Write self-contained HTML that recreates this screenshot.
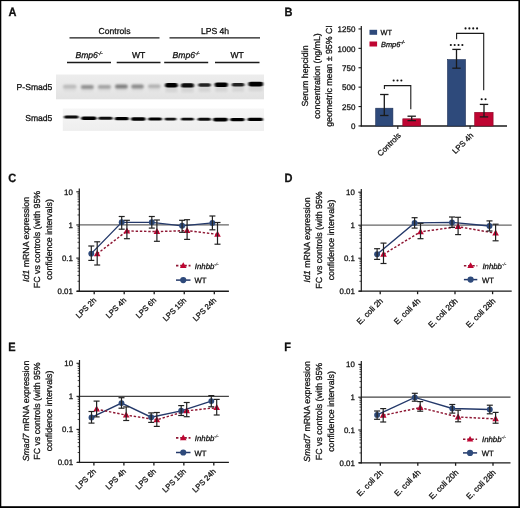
<!DOCTYPE html>
<html><head><meta charset="utf-8"><style>
html,body{margin:0;padding:0;background:#fff;}
svg{display:block;font-family:"Liberation Sans", sans-serif;will-change:transform;text-rendering:geometricPrecision;}
text{stroke:#111;stroke-width:0.28px;}
</style></head><body>
<svg width="520" height="508" viewBox="0 0 520 508">
<defs>
<filter id="blur" x="-20%" y="-100%" width="140%" height="300%"><feGaussianBlur stdDeviation="0.9 0.75"/></filter>
<filter id="blur2" x="-20%" y="-100%" width="140%" height="300%"><feGaussianBlur stdDeviation="1.1 0.9"/></filter>
<linearGradient id="g1" x1="0" y1="0" x2="0" y2="1"><stop offset="0" stop-color="#ededed"/><stop offset="0.5" stop-color="#e8e8e8"/><stop offset="1" stop-color="#e2e2e2"/></linearGradient>
<linearGradient id="g2" x1="0" y1="0" x2="0" y2="1"><stop offset="0" stop-color="#f6f6f6"/><stop offset="1" stop-color="#eeeeee"/></linearGradient>
<filter id="soft" x="-5%" y="-10%" width="110%" height="120%"><feGaussianBlur stdDeviation="0.5"/></filter>
</defs>
<rect x="0" y="0" width="520" height="508" fill="#fff"/>
<text transform="translate(8.4 16.4) scale(0.92 1)" x="0" y="0" font-size="12" font-weight="bold" fill="#111">A</text>
<text x="114.5" y="33.8" font-size="8.6" text-anchor="middle" fill="#111">Controls</text>
<text x="215" y="33.8" font-size="8.6" text-anchor="middle" fill="#111">LPS 4h</text>
<line x1="69.5" y1="37.85" x2="159.5" y2="37.85" stroke="#1a1a1a" stroke-width="1.4"/>
<line x1="169.5" y1="37.85" x2="260" y2="37.85" stroke="#1a1a1a" stroke-width="1.4"/>
<text x="89" y="58.2" font-size="8.6" text-anchor="middle" font-style="italic" fill="#111">Bmp6<tspan font-size="5" dy="-3.2">-/-</tspan></text>
<text x="138.6" y="58.2" font-size="8.6" text-anchor="middle" fill="#111">WT</text>
<text x="186.2" y="58.2" font-size="8.6" text-anchor="middle" font-style="italic" fill="#111">Bmp6<tspan font-size="5" dy="-3.2">-/-</tspan></text>
<text x="237.2" y="58.2" font-size="8.6" text-anchor="middle" fill="#111">WT</text>
<line x1="67" y1="62.55" x2="111" y2="62.55" stroke="#1a1a1a" stroke-width="1.4"/>
<line x1="116.7" y1="62.55" x2="160.5" y2="62.55" stroke="#1a1a1a" stroke-width="1.4"/>
<line x1="164.2" y1="62.55" x2="208.2" y2="62.55" stroke="#1a1a1a" stroke-width="1.4"/>
<line x1="215" y1="62.55" x2="259.5" y2="62.55" stroke="#1a1a1a" stroke-width="1.4"/>
<rect x="56" y="74.5" width="208" height="24.8" fill="url(#g1)" filter="url(#soft)"/>
<rect x="62.8" y="108.5" width="201.2" height="22.4" fill="url(#g2)" filter="url(#soft)"/>
<text x="52.4" y="90.2" font-size="8.6" text-anchor="end" fill="#111">P-Smad5</text>
<text x="52.4" y="121.4" font-size="8.6" text-anchor="end" fill="#111">Smad5</text>
<rect x="63.5" y="86.7" width="12.5" height="5" fill="#000" opacity="0.03" filter="url(#blur2)"/>
<rect x="81.3" y="87.0" width="12.0" height="5" fill="#000" opacity="0.03" filter="url(#blur2)"/>
<rect x="98.3" y="86.8" width="12.200000000000003" height="5" fill="#000" opacity="0.03" filter="url(#blur2)"/>
<rect x="115.5" y="86.6" width="11.799999999999997" height="5" fill="#000" opacity="0.03" filter="url(#blur2)"/>
<rect x="131.7" y="86.6" width="11.600000000000023" height="5" fill="#000" opacity="0.03" filter="url(#blur2)"/>
<rect x="148.5" y="86.3" width="11.5" height="5" fill="#000" opacity="0.03" filter="url(#blur2)"/>
<rect x="165.5" y="85.3" width="11.800000000000011" height="7" fill="#000" opacity="0.07" filter="url(#blur2)"/>
<rect x="181.5" y="85.4" width="12" height="7" fill="#000" opacity="0.07" filter="url(#blur2)"/>
<rect x="198.7" y="85.0" width="11.600000000000023" height="7" fill="#000" opacity="0.07" filter="url(#blur2)"/>
<rect x="215.1" y="84.8" width="12.300000000000011" height="7" fill="#000" opacity="0.07" filter="url(#blur2)"/>
<rect x="232.2" y="84.7" width="11.700000000000017" height="7" fill="#000" opacity="0.07" filter="url(#blur2)"/>
<rect x="248.7" y="84.1" width="14.0" height="7" fill="#000" opacity="0.07" filter="url(#blur2)"/>
<rect x="63" y="84.8" width="13.5" height="3.8" rx="1.9" fill="#bababa" filter="url(#blur2)"/>
<rect x="80.8" y="85.0" width="13.0" height="4.0" rx="2.0" fill="#929292" filter="url(#blur2)"/>
<rect x="97.8" y="84.89999999999999" width="13.200000000000003" height="3.8" rx="1.9" fill="#a2a2a2" filter="url(#blur2)"/>
<rect x="115" y="84.6" width="12.799999999999997" height="4.0" rx="2.0" fill="#7e7e7e" filter="url(#blur2)"/>
<rect x="131.2" y="84.6" width="12.600000000000023" height="4.0" rx="2.0" fill="#8a8a8a" filter="url(#blur2)"/>
<rect x="148" y="84.6" width="12.5" height="3.4" rx="1.7" fill="#b0b0b0" filter="url(#blur2)"/>
<rect x="165" y="83.1" width="12.800000000000011" height="4.4" rx="2.2" fill="#050505" filter="url(#blur)"/>
<rect x="181" y="83.2" width="13" height="4.4" rx="2.2" fill="#080808" filter="url(#blur)"/>
<rect x="198.2" y="83.2" width="12.600000000000023" height="3.6" rx="1.8" fill="#222222" filter="url(#blur)"/>
<rect x="214.6" y="82.6" width="13.300000000000011" height="4.4" rx="2.2" fill="#060606" filter="url(#blur)"/>
<rect x="231.7" y="82.9" width="12.700000000000017" height="3.6" rx="1.8" fill="#202020" filter="url(#blur)"/>
<rect x="248.2" y="81.69999999999999" width="15.0" height="4.8" rx="2.4" fill="#000000" filter="url(#blur)"/>
<rect x="64" y="115.4" width="14.599999999999994" height="3.2" rx="1.6" fill="#0a0a0a" filter="url(#blur)"/>
<rect x="81.2" y="116.4" width="15.299999999999997" height="3.6" rx="1.8" fill="#000000" filter="url(#blur)"/>
<rect x="98.4" y="116.8" width="14.199999999999989" height="3.0" rx="1.5" fill="#0e0e0e" filter="url(#blur)"/>
<rect x="114.8" y="117.10000000000001" width="14.000000000000014" height="3.2" rx="1.6" fill="#050505" filter="url(#blur)"/>
<rect x="131" y="117.2" width="14.599999999999994" height="3.6" rx="1.8" fill="#000000" filter="url(#blur)"/>
<rect x="148.2" y="117.4" width="13.800000000000011" height="3.2" rx="1.6" fill="#060606" filter="url(#blur)"/>
<rect x="164.6" y="117.8" width="11.800000000000011" height="2.6" rx="1.3" fill="#161616" filter="url(#blur)"/>
<rect x="181" y="117.8" width="12.800000000000011" height="2.8" rx="1.4" fill="#101010" filter="url(#blur)"/>
<rect x="197.6" y="117.8" width="13.200000000000017" height="3.0" rx="1.5" fill="#0c0c0c" filter="url(#blur)"/>
<rect x="213" y="117.8" width="14.900000000000006" height="3.6" rx="1.8" fill="#000000" filter="url(#blur)"/>
<rect x="230.2" y="118.0" width="14.400000000000006" height="3.2" rx="1.6" fill="#040404" filter="url(#blur)"/>
<rect x="247.5" y="117.7" width="15.5" height="3.4" rx="1.7" fill="#020202" filter="url(#blur)"/>
<text transform="translate(284.5 16.4) scale(0.92 1)" x="0" y="0" font-size="12" font-weight="bold" fill="#111">B</text>
<text x="308.2" y="76" font-size="8.8" text-anchor="middle" transform="rotate(-90 308.2 76)" fill="#111">Serum hepcidin</text>
<text x="320.0" y="76" font-size="8.8" text-anchor="middle" transform="rotate(-90 320.0 76)" fill="#111">concentration (ng/mL)</text>
<text x="331.8" y="76" font-size="8.8" text-anchor="middle" transform="rotate(-90 331.8 76)" fill="#111">geometric mean &#177; 95% CI</text>
<line x1="361.3" y1="25.9" x2="361.3" y2="126.45" stroke="#1a1a1a" stroke-width="1.2"/>
<line x1="358.5" y1="125.95" x2="361.3" y2="125.95" stroke="#1a1a1a" stroke-width="1.1"/>
<text x="355.4" y="129.25" font-size="8.0" text-anchor="end" fill="#111">0</text>
<line x1="358.5" y1="106.55000000000001" x2="361.3" y2="106.55000000000001" stroke="#1a1a1a" stroke-width="1.1"/>
<text x="355.4" y="109.85000000000001" font-size="8.0" text-anchor="end" fill="#111">250</text>
<line x1="358.5" y1="87.15" x2="361.3" y2="87.15" stroke="#1a1a1a" stroke-width="1.1"/>
<text x="355.4" y="90.45" font-size="8.0" text-anchor="end" fill="#111">500</text>
<line x1="358.5" y1="67.75" x2="361.3" y2="67.75" stroke="#1a1a1a" stroke-width="1.1"/>
<text x="355.4" y="71.05" font-size="8.0" text-anchor="end" fill="#111">750</text>
<line x1="358.5" y1="48.35000000000001" x2="361.3" y2="48.35000000000001" stroke="#1a1a1a" stroke-width="1.1"/>
<text x="355.4" y="51.650000000000006" font-size="8.0" text-anchor="end" fill="#111">1000</text>
<line x1="358.5" y1="28.950000000000003" x2="361.3" y2="28.950000000000003" stroke="#1a1a1a" stroke-width="1.1"/>
<text x="355.4" y="32.25" font-size="8.0" text-anchor="end" fill="#111">1250</text>
<line x1="360.7" y1="125.95" x2="507" y2="125.95" stroke="#1a1a1a" stroke-width="1.5"/>
<rect x="375.7" y="108.2" width="17.20000000000001" height="17.749999999999996" fill="#2e4a7b" stroke="#1d2f55" stroke-width="0.6"/>
<rect x="402.8" y="118.8" width="17.799999999999976" height="7.150000000000003" fill="#bf0532" stroke="#8a0424" stroke-width="0.6"/>
<rect x="447.5" y="59.599999999999994" width="18.00000000000002" height="66.35000000000001" fill="#2e4a7b" stroke="#1d2f55" stroke-width="0.6"/>
<rect x="474.7" y="112.3" width="18.4" height="13.650000000000002" fill="#bf0532" stroke="#8a0424" stroke-width="0.6"/>
<line x1="384.3" y1="94.5" x2="384.3" y2="115.5" stroke="#1a1a1a" stroke-width="1.3"/>
<line x1="380.1" y1="94.5" x2="388.5" y2="94.5" stroke="#1a1a1a" stroke-width="1.3"/>
<line x1="380.1" y1="115.5" x2="388.5" y2="115.5" stroke="#1a1a1a" stroke-width="1.3"/>
<line x1="411.7" y1="116.2" x2="411.7" y2="120.6" stroke="#1a1a1a" stroke-width="1.3"/>
<line x1="407.5" y1="116.2" x2="415.9" y2="116.2" stroke="#1a1a1a" stroke-width="1.3"/>
<line x1="407.5" y1="120.6" x2="415.9" y2="120.6" stroke="#1a1a1a" stroke-width="1.3"/>
<line x1="456.5" y1="49.4" x2="456.5" y2="68.2" stroke="#1a1a1a" stroke-width="1.3"/>
<line x1="452.3" y1="49.4" x2="460.7" y2="49.4" stroke="#1a1a1a" stroke-width="1.3"/>
<line x1="452.3" y1="68.2" x2="460.7" y2="68.2" stroke="#1a1a1a" stroke-width="1.3"/>
<line x1="484.0" y1="104.4" x2="484.0" y2="116.9" stroke="#1a1a1a" stroke-width="1.3"/>
<line x1="479.8" y1="104.4" x2="488.2" y2="104.4" stroke="#1a1a1a" stroke-width="1.3"/>
<line x1="479.8" y1="116.9" x2="488.2" y2="116.9" stroke="#1a1a1a" stroke-width="1.3"/>
<line x1="397.8" y1="125.95" x2="397.8" y2="128.95" stroke="#1a1a1a" stroke-width="1.1"/>
<line x1="470.1" y1="125.95" x2="470.1" y2="128.95" stroke="#1a1a1a" stroke-width="1.1"/>
<text x="401.4" y="136.0" font-size="7.9" text-anchor="end" transform="rotate(-45 401.4 136.0)" fill="#111">Controls</text>
<text x="473.9" y="136.0" font-size="7.9" text-anchor="end" transform="rotate(-45 473.9 136.0)" fill="#111">LPS 4h</text>
<polyline points="384.4,89 384.4,85.6 410.8,85.6 410.8,109.3" fill="none" stroke="#1a1a1a" stroke-width="1.1"/>
<polyline points="456.6,39.3 456.6,33.4 483.7,33.4 483.7,90.3" fill="none" stroke="#1a1a1a" stroke-width="1.1"/>
<circle cx="393.65" cy="80.5" r="1.05" fill="#111"/>
<circle cx="397.50" cy="80.5" r="1.05" fill="#111"/>
<circle cx="401.35" cy="80.5" r="1.05" fill="#111"/>
<circle cx="465.53" cy="28.4" r="1.05" fill="#111"/>
<circle cx="469.38" cy="28.4" r="1.05" fill="#111"/>
<circle cx="473.23" cy="28.4" r="1.05" fill="#111"/>
<circle cx="477.08" cy="28.4" r="1.05" fill="#111"/>
<circle cx="450.83" cy="45.0" r="1.05" fill="#111"/>
<circle cx="454.68" cy="45.0" r="1.05" fill="#111"/>
<circle cx="458.53" cy="45.0" r="1.05" fill="#111"/>
<circle cx="462.38" cy="45.0" r="1.05" fill="#111"/>
<circle cx="481.68" cy="99.2" r="1.05" fill="#111"/>
<circle cx="485.53" cy="99.2" r="1.05" fill="#111"/>
<rect x="369.5" y="29.8" width="7.6" height="5.0" fill="#2e4a7b"/>
<rect x="369.5" y="41.5" width="7.6" height="5.0" fill="#bf0532"/>
<text x="380.6" y="34.9" font-size="7.4" text-anchor="start" fill="#111">WT</text>
<text x="381" y="46.7" font-size="7.4" font-style="italic" fill="#111">Bmp6<tspan font-size="5" dy="-3">-/-</tspan></text>
<text transform="translate(8.2 181.7) scale(0.92 1)" x="0" y="0" font-size="12" font-weight="bold" fill="#111">C</text>
<text x="28.8" y="239.5" font-size="8.8" text-anchor="middle" transform="rotate(-90 28.8 239.5)" fill="#111"><tspan font-style="italic">Id1</tspan> mRNA expression</text>
<text x="40.2" y="239.5" font-size="8.8" text-anchor="middle" transform="rotate(-90 40.2 239.5)" fill="#111">FC vs controls (with 95%</text>
<text x="51.8" y="239.5" font-size="8.8" text-anchor="middle" transform="rotate(-90 51.8 239.5)" fill="#111">confidence intervals)</text>
<line x1="79.3" y1="224.95000000000002" x2="228.9" y2="224.95000000000002" stroke="#666666" stroke-width="1.2"/>
<line x1="79.3" y1="188.5" x2="79.3" y2="291.85" stroke="#1a1a1a" stroke-width="1.2"/>
<line x1="76.3" y1="191.8" x2="79.3" y2="191.8" stroke="#1a1a1a" stroke-width="1.1"/>
<text x="72.89999999999999" y="194.8" font-size="7.9" text-anchor="end" fill="#111">10</text>
<line x1="76.3" y1="224.95000000000002" x2="79.3" y2="224.95000000000002" stroke="#1a1a1a" stroke-width="1.1"/>
<text x="72.89999999999999" y="227.95000000000002" font-size="7.9" text-anchor="end" fill="#111">1</text>
<line x1="76.3" y1="258.1" x2="79.3" y2="258.1" stroke="#1a1a1a" stroke-width="1.1"/>
<text x="72.89999999999999" y="261.1" font-size="7.9" text-anchor="end" fill="#111">0.1</text>
<line x1="76.3" y1="291.25" x2="79.3" y2="291.25" stroke="#1a1a1a" stroke-width="1.1"/>
<text x="72.89999999999999" y="294.25" font-size="7.9" text-anchor="end" fill="#111">0.01</text>
<line x1="77.5" y1="281.270855643739" x2="79.3" y2="281.270855643739" stroke="#1a1a1a" stroke-width="0.8"/>
<line x1="77.5" y1="275.43343040604316" x2="79.3" y2="275.43343040604316" stroke="#1a1a1a" stroke-width="0.8"/>
<line x1="77.5" y1="271.29171128747805" x2="79.3" y2="271.29171128747805" stroke="#1a1a1a" stroke-width="0.8"/>
<line x1="77.5" y1="268.079144356261" x2="79.3" y2="268.079144356261" stroke="#1a1a1a" stroke-width="0.8"/>
<line x1="77.5" y1="265.45428604978224" x2="79.3" y2="265.45428604978224" stroke="#1a1a1a" stroke-width="0.8"/>
<line x1="77.5" y1="263.2349999735274" x2="79.3" y2="263.2349999735274" stroke="#1a1a1a" stroke-width="0.8"/>
<line x1="77.5" y1="261.3125669312171" x2="79.3" y2="261.3125669312171" stroke="#1a1a1a" stroke-width="0.8"/>
<line x1="77.5" y1="259.6168608120864" x2="79.3" y2="259.6168608120864" stroke="#1a1a1a" stroke-width="0.8"/>
<line x1="77.5" y1="248.12085564373902" x2="79.3" y2="248.12085564373902" stroke="#1a1a1a" stroke-width="0.8"/>
<line x1="77.5" y1="242.28343040604318" x2="79.3" y2="242.28343040604318" stroke="#1a1a1a" stroke-width="0.8"/>
<line x1="77.5" y1="238.14171128747805" x2="79.3" y2="238.14171128747805" stroke="#1a1a1a" stroke-width="0.8"/>
<line x1="77.5" y1="234.929144356261" x2="79.3" y2="234.929144356261" stroke="#1a1a1a" stroke-width="0.8"/>
<line x1="77.5" y1="232.3042860497822" x2="79.3" y2="232.3042860497822" stroke="#1a1a1a" stroke-width="0.8"/>
<line x1="77.5" y1="230.0849999735274" x2="79.3" y2="230.0849999735274" stroke="#1a1a1a" stroke-width="0.8"/>
<line x1="77.5" y1="228.16256693121707" x2="79.3" y2="228.16256693121707" stroke="#1a1a1a" stroke-width="0.8"/>
<line x1="77.5" y1="226.4668608120864" x2="79.3" y2="226.4668608120864" stroke="#1a1a1a" stroke-width="0.8"/>
<line x1="77.5" y1="214.97085564373904" x2="79.3" y2="214.97085564373904" stroke="#1a1a1a" stroke-width="0.8"/>
<line x1="77.5" y1="209.1334304060432" x2="79.3" y2="209.1334304060432" stroke="#1a1a1a" stroke-width="0.8"/>
<line x1="77.5" y1="204.99171128747807" x2="79.3" y2="204.99171128747807" stroke="#1a1a1a" stroke-width="0.8"/>
<line x1="77.5" y1="201.77914435626099" x2="79.3" y2="201.77914435626099" stroke="#1a1a1a" stroke-width="0.8"/>
<line x1="77.5" y1="199.15428604978223" x2="79.3" y2="199.15428604978223" stroke="#1a1a1a" stroke-width="0.8"/>
<line x1="77.5" y1="196.9349999735274" x2="79.3" y2="196.9349999735274" stroke="#1a1a1a" stroke-width="0.8"/>
<line x1="77.5" y1="195.0125669312171" x2="79.3" y2="195.0125669312171" stroke="#1a1a1a" stroke-width="0.8"/>
<line x1="77.5" y1="193.3168608120864" x2="79.3" y2="193.3168608120864" stroke="#1a1a1a" stroke-width="0.8"/>
<line x1="76.8" y1="291.25" x2="228.9" y2="291.25" stroke="#1a1a1a" stroke-width="1.3"/>
<line x1="94.2" y1="291.25" x2="94.2" y2="294.25" stroke="#1a1a1a" stroke-width="1.3"/>
<text x="96.8" y="300.85" font-size="7.7" text-anchor="end" transform="rotate(-45 96.8 300.85)" fill="#111">LPS 2h</text>
<line x1="124.2" y1="291.25" x2="124.2" y2="294.25" stroke="#1a1a1a" stroke-width="1.3"/>
<text x="126.8" y="300.85" font-size="7.7" text-anchor="end" transform="rotate(-45 126.8 300.85)" fill="#111">LPS 4h</text>
<line x1="154.2" y1="291.25" x2="154.2" y2="294.25" stroke="#1a1a1a" stroke-width="1.3"/>
<text x="156.79999999999998" y="300.85" font-size="7.7" text-anchor="end" transform="rotate(-45 156.79999999999998 300.85)" fill="#111">LPS 6h</text>
<line x1="184.25" y1="291.25" x2="184.25" y2="294.25" stroke="#1a1a1a" stroke-width="1.3"/>
<text x="186.85" y="300.85" font-size="7.7" text-anchor="end" transform="rotate(-45 186.85 300.85)" fill="#111">LPS 15h</text>
<line x1="214.3" y1="291.25" x2="214.3" y2="294.25" stroke="#1a1a1a" stroke-width="1.3"/>
<text x="216.9" y="300.85" font-size="7.7" text-anchor="end" transform="rotate(-45 216.9 300.85)" fill="#111">LPS 24h</text>
<polyline points="91.30,253.60 121.70,222.30 151.80,222.30 182.10,225.80 212.40,222.90" fill="none" stroke="#24396a" stroke-width="1.35"/>
<polyline points="97.20,253.80 126.90,231.00 156.90,231.60 187.10,230.60 217.50,234.40" fill="none" stroke="#8e1733" stroke-width="1.45" stroke-dasharray="2.4,1.8"/>
<circle cx="91.30" cy="253.60" r="2.95" fill="#2e4a7b"/>
<circle cx="121.70" cy="222.30" r="2.95" fill="#2e4a7b"/>
<circle cx="151.80" cy="222.30" r="2.95" fill="#2e4a7b"/>
<circle cx="182.10" cy="225.80" r="2.95" fill="#2e4a7b"/>
<circle cx="212.40" cy="222.90" r="2.95" fill="#2e4a7b"/>
<path d="M97.20,250.20 L100.50,256.20 L93.90,256.20Z" fill="#bf0532"/>
<path d="M126.90,227.40 L130.20,233.40 L123.60,233.40Z" fill="#bf0532"/>
<path d="M156.90,228.00 L160.20,234.00 L153.60,234.00Z" fill="#bf0532"/>
<path d="M187.10,227.00 L190.40,233.00 L183.80,233.00Z" fill="#bf0532"/>
<path d="M217.50,230.80 L220.80,236.80 L214.20,236.80Z" fill="#bf0532"/>
<line x1="91.3" y1="246.0" x2="91.3" y2="260.4" stroke="#222" stroke-width="1.2"/>
<line x1="88.3" y1="246.0" x2="94.3" y2="246.0" stroke="#222" stroke-width="1.2"/>
<line x1="88.3" y1="260.4" x2="94.3" y2="260.4" stroke="#222" stroke-width="1.2"/>
<line x1="121.7" y1="216.5" x2="121.7" y2="229.2" stroke="#222" stroke-width="1.2"/>
<line x1="118.7" y1="216.5" x2="124.7" y2="216.5" stroke="#222" stroke-width="1.2"/>
<line x1="118.7" y1="229.2" x2="124.7" y2="229.2" stroke="#222" stroke-width="1.2"/>
<line x1="151.8" y1="216.5" x2="151.8" y2="228.1" stroke="#222" stroke-width="1.2"/>
<line x1="148.8" y1="216.5" x2="154.8" y2="216.5" stroke="#222" stroke-width="1.2"/>
<line x1="148.8" y1="228.1" x2="154.8" y2="228.1" stroke="#222" stroke-width="1.2"/>
<line x1="182.1" y1="220.3" x2="182.1" y2="232.3" stroke="#222" stroke-width="1.2"/>
<line x1="179.1" y1="220.3" x2="185.1" y2="220.3" stroke="#222" stroke-width="1.2"/>
<line x1="179.1" y1="232.3" x2="185.1" y2="232.3" stroke="#222" stroke-width="1.2"/>
<line x1="212.4" y1="216.0" x2="212.4" y2="229.8" stroke="#222" stroke-width="1.2"/>
<line x1="209.4" y1="216.0" x2="215.4" y2="216.0" stroke="#222" stroke-width="1.2"/>
<line x1="209.4" y1="229.8" x2="215.4" y2="229.8" stroke="#222" stroke-width="1.2"/>
<line x1="97.2" y1="241.8" x2="97.2" y2="265.0" stroke="#222" stroke-width="1.2"/>
<line x1="94.2" y1="241.8" x2="100.2" y2="241.8" stroke="#222" stroke-width="1.2"/>
<line x1="94.2" y1="265.0" x2="100.2" y2="265.0" stroke="#222" stroke-width="1.2"/>
<line x1="126.9" y1="220.3" x2="126.9" y2="238.7" stroke="#222" stroke-width="1.2"/>
<line x1="123.9" y1="220.3" x2="129.9" y2="220.3" stroke="#222" stroke-width="1.2"/>
<line x1="123.9" y1="238.7" x2="129.9" y2="238.7" stroke="#222" stroke-width="1.2"/>
<line x1="156.9" y1="220.0" x2="156.9" y2="241.3" stroke="#222" stroke-width="1.2"/>
<line x1="153.9" y1="220.0" x2="159.9" y2="220.0" stroke="#222" stroke-width="1.2"/>
<line x1="153.9" y1="241.3" x2="159.9" y2="241.3" stroke="#222" stroke-width="1.2"/>
<line x1="187.1" y1="219.7" x2="187.1" y2="239.4" stroke="#222" stroke-width="1.2"/>
<line x1="184.1" y1="219.7" x2="190.1" y2="219.7" stroke="#222" stroke-width="1.2"/>
<line x1="184.1" y1="239.4" x2="190.1" y2="239.4" stroke="#222" stroke-width="1.2"/>
<line x1="217.5" y1="222.5" x2="217.5" y2="244.2" stroke="#222" stroke-width="1.2"/>
<line x1="214.5" y1="222.5" x2="220.5" y2="222.5" stroke="#222" stroke-width="1.2"/>
<line x1="214.5" y1="244.2" x2="220.5" y2="244.2" stroke="#222" stroke-width="1.2"/>
<line x1="176" y1="265.6" x2="190.5" y2="265.6" stroke="#8e1733" stroke-width="1.6" stroke-dasharray="2.4,1.8"/>
<path d="M183.25,262.20 L186.55,267.90 L179.95,267.90Z" fill="#bf0532"/>
<line x1="176" y1="280.1" x2="190.5" y2="280.1" stroke="#24396a" stroke-width="1.5"/>
<circle cx="183.25" cy="280.10" r="3.1" fill="#2e4a7b"/>
<text x="194.8" y="268.5" font-size="7.8" font-style="italic" fill="#111">Inhbb<tspan font-size="4.6" dy="-2.8" style="stroke-width:0.12px">-/-</tspan></text>
<text x="194.5" y="283.1" font-size="7.7" text-anchor="start" fill="#111">WT</text>
<text transform="translate(284.5 181.6) scale(0.92 1)" x="0" y="0" font-size="12" font-weight="bold" fill="#111">D</text>
<text x="310.1" y="240" font-size="8.8" text-anchor="middle" transform="rotate(-90 310.1 240)" fill="#111"><tspan font-style="italic">Id1</tspan> mRNA expression</text>
<text x="322.0" y="240" font-size="8.8" text-anchor="middle" transform="rotate(-90 322.0 240)" fill="#111">FC vs controls (with 95%</text>
<text x="333.6" y="240" font-size="8.8" text-anchor="middle" transform="rotate(-90 333.6 240)" fill="#111">confidence intervals)</text>
<line x1="361.3" y1="225.2" x2="511.7" y2="225.2" stroke="#666666" stroke-width="1.2"/>
<line x1="361.3" y1="188.89999999999998" x2="361.3" y2="291.8" stroke="#1a1a1a" stroke-width="1.2"/>
<line x1="358.3" y1="192.2" x2="361.3" y2="192.2" stroke="#1a1a1a" stroke-width="1.1"/>
<text x="354.90000000000003" y="195.2" font-size="7.9" text-anchor="end" fill="#111">10</text>
<line x1="358.3" y1="225.2" x2="361.3" y2="225.2" stroke="#1a1a1a" stroke-width="1.1"/>
<text x="354.90000000000003" y="228.2" font-size="7.9" text-anchor="end" fill="#111">1</text>
<line x1="358.3" y1="258.2" x2="361.3" y2="258.2" stroke="#1a1a1a" stroke-width="1.1"/>
<text x="354.90000000000003" y="261.2" font-size="7.9" text-anchor="end" fill="#111">0.1</text>
<line x1="358.3" y1="291.2" x2="361.3" y2="291.2" stroke="#1a1a1a" stroke-width="1.1"/>
<text x="354.90000000000003" y="294.2" font-size="7.9" text-anchor="end" fill="#111">0.01</text>
<line x1="359.5" y1="281.2660101430886" x2="361.3" y2="281.2660101430886" stroke="#1a1a1a" stroke-width="0.8"/>
<line x1="359.5" y1="275.45499859425115" x2="361.3" y2="275.45499859425115" stroke="#1a1a1a" stroke-width="0.8"/>
<line x1="359.5" y1="271.3320202861772" x2="361.3" y2="271.3320202861772" stroke="#1a1a1a" stroke-width="0.8"/>
<line x1="359.5" y1="268.1339898569114" x2="361.3" y2="268.1339898569114" stroke="#1a1a1a" stroke-width="0.8"/>
<line x1="359.5" y1="265.52100873733974" x2="361.3" y2="265.52100873733974" stroke="#1a1a1a" stroke-width="0.8"/>
<line x1="359.5" y1="263.3117646795295" x2="361.3" y2="263.3117646795295" stroke="#1a1a1a" stroke-width="0.8"/>
<line x1="359.5" y1="261.3980304292659" x2="361.3" y2="261.3980304292659" stroke="#1a1a1a" stroke-width="0.8"/>
<line x1="359.5" y1="259.70999718850226" x2="361.3" y2="259.70999718850226" stroke="#1a1a1a" stroke-width="0.8"/>
<line x1="359.5" y1="248.2660101430886" x2="361.3" y2="248.2660101430886" stroke="#1a1a1a" stroke-width="0.8"/>
<line x1="359.5" y1="242.45499859425112" x2="361.3" y2="242.45499859425112" stroke="#1a1a1a" stroke-width="0.8"/>
<line x1="359.5" y1="238.33202028617723" x2="361.3" y2="238.33202028617723" stroke="#1a1a1a" stroke-width="0.8"/>
<line x1="359.5" y1="235.13398985691137" x2="361.3" y2="235.13398985691137" stroke="#1a1a1a" stroke-width="0.8"/>
<line x1="359.5" y1="232.52100873733974" x2="361.3" y2="232.52100873733974" stroke="#1a1a1a" stroke-width="0.8"/>
<line x1="359.5" y1="230.31176467952952" x2="361.3" y2="230.31176467952952" stroke="#1a1a1a" stroke-width="0.8"/>
<line x1="359.5" y1="228.39803042926584" x2="361.3" y2="228.39803042926584" stroke="#1a1a1a" stroke-width="0.8"/>
<line x1="359.5" y1="226.70999718850226" x2="361.3" y2="226.70999718850226" stroke="#1a1a1a" stroke-width="0.8"/>
<line x1="359.5" y1="215.2660101430886" x2="361.3" y2="215.2660101430886" stroke="#1a1a1a" stroke-width="0.8"/>
<line x1="359.5" y1="209.45499859425112" x2="361.3" y2="209.45499859425112" stroke="#1a1a1a" stroke-width="0.8"/>
<line x1="359.5" y1="205.33202028617723" x2="361.3" y2="205.33202028617723" stroke="#1a1a1a" stroke-width="0.8"/>
<line x1="359.5" y1="202.13398985691137" x2="361.3" y2="202.13398985691137" stroke="#1a1a1a" stroke-width="0.8"/>
<line x1="359.5" y1="199.52100873733974" x2="361.3" y2="199.52100873733974" stroke="#1a1a1a" stroke-width="0.8"/>
<line x1="359.5" y1="197.31176467952952" x2="361.3" y2="197.31176467952952" stroke="#1a1a1a" stroke-width="0.8"/>
<line x1="359.5" y1="195.39803042926584" x2="361.3" y2="195.39803042926584" stroke="#1a1a1a" stroke-width="0.8"/>
<line x1="359.5" y1="193.70999718850226" x2="361.3" y2="193.70999718850226" stroke="#1a1a1a" stroke-width="0.8"/>
<line x1="358.8" y1="291.2" x2="511.7" y2="291.2" stroke="#1a1a1a" stroke-width="1.3"/>
<line x1="380.2" y1="291.2" x2="380.2" y2="294.2" stroke="#1a1a1a" stroke-width="1.3"/>
<text x="383.5" y="301.5" font-size="8.1" text-anchor="end" transform="rotate(-45 383.5 301.5)" fill="#111">E. coli 2h</text>
<line x1="417.6" y1="291.2" x2="417.6" y2="294.2" stroke="#1a1a1a" stroke-width="1.3"/>
<text x="420.90000000000003" y="301.5" font-size="8.1" text-anchor="end" transform="rotate(-45 420.90000000000003 301.5)" fill="#111">E. coli 4h</text>
<line x1="455.0" y1="291.2" x2="455.0" y2="294.2" stroke="#1a1a1a" stroke-width="1.3"/>
<text x="458.3" y="301.5" font-size="8.1" text-anchor="end" transform="rotate(-45 458.3 301.5)" fill="#111">E. coli 20h</text>
<line x1="492.6" y1="291.2" x2="492.6" y2="294.2" stroke="#1a1a1a" stroke-width="1.3"/>
<text x="495.90000000000003" y="301.5" font-size="8.1" text-anchor="end" transform="rotate(-45 495.90000000000003 301.5)" fill="#111">E. coli 28h</text>
<polyline points="377.10,254.30 414.60,222.90 452.00,222.40 489.50,226.00" fill="none" stroke="#24396a" stroke-width="1.35"/>
<polyline points="383.50,254.30 420.50,231.80 458.10,226.70 495.60,233.20" fill="none" stroke="#8e1733" stroke-width="1.45" stroke-dasharray="2.4,1.8"/>
<circle cx="377.10" cy="254.30" r="2.95" fill="#2e4a7b"/>
<circle cx="414.60" cy="222.90" r="2.95" fill="#2e4a7b"/>
<circle cx="452.00" cy="222.40" r="2.95" fill="#2e4a7b"/>
<circle cx="489.50" cy="226.00" r="2.95" fill="#2e4a7b"/>
<path d="M383.50,250.70 L386.80,256.70 L380.20,256.70Z" fill="#bf0532"/>
<path d="M420.50,228.20 L423.80,234.20 L417.20,234.20Z" fill="#bf0532"/>
<path d="M458.10,223.10 L461.40,229.10 L454.80,229.10Z" fill="#bf0532"/>
<path d="M495.60,229.60 L498.90,235.60 L492.30,235.60Z" fill="#bf0532"/>
<line x1="377.1" y1="248.7" x2="377.1" y2="259.4" stroke="#222" stroke-width="1.2"/>
<line x1="374.1" y1="248.7" x2="380.1" y2="248.7" stroke="#222" stroke-width="1.2"/>
<line x1="374.1" y1="259.4" x2="380.1" y2="259.4" stroke="#222" stroke-width="1.2"/>
<line x1="414.6" y1="217.7" x2="414.6" y2="228.1" stroke="#222" stroke-width="1.2"/>
<line x1="411.6" y1="217.7" x2="417.6" y2="217.7" stroke="#222" stroke-width="1.2"/>
<line x1="411.6" y1="228.1" x2="417.6" y2="228.1" stroke="#222" stroke-width="1.2"/>
<line x1="452.0" y1="217.0" x2="452.0" y2="227.4" stroke="#222" stroke-width="1.2"/>
<line x1="449.0" y1="217.0" x2="455.0" y2="217.0" stroke="#222" stroke-width="1.2"/>
<line x1="449.0" y1="227.4" x2="455.0" y2="227.4" stroke="#222" stroke-width="1.2"/>
<line x1="489.5" y1="220.9" x2="489.5" y2="231.0" stroke="#222" stroke-width="1.2"/>
<line x1="486.5" y1="220.9" x2="492.5" y2="220.9" stroke="#222" stroke-width="1.2"/>
<line x1="486.5" y1="231.0" x2="492.5" y2="231.0" stroke="#222" stroke-width="1.2"/>
<line x1="383.5" y1="243.1" x2="383.5" y2="263.5" stroke="#222" stroke-width="1.2"/>
<line x1="380.5" y1="243.1" x2="386.5" y2="243.1" stroke="#222" stroke-width="1.2"/>
<line x1="380.5" y1="263.5" x2="386.5" y2="263.5" stroke="#222" stroke-width="1.2"/>
<line x1="420.5" y1="223.3" x2="420.5" y2="238.7" stroke="#222" stroke-width="1.2"/>
<line x1="417.5" y1="223.3" x2="423.5" y2="223.3" stroke="#222" stroke-width="1.2"/>
<line x1="417.5" y1="238.7" x2="423.5" y2="238.7" stroke="#222" stroke-width="1.2"/>
<line x1="458.1" y1="217.3" x2="458.1" y2="234.6" stroke="#222" stroke-width="1.2"/>
<line x1="455.1" y1="217.3" x2="461.1" y2="217.3" stroke="#222" stroke-width="1.2"/>
<line x1="455.1" y1="234.6" x2="461.1" y2="234.6" stroke="#222" stroke-width="1.2"/>
<line x1="495.6" y1="224.2" x2="495.6" y2="240.8" stroke="#222" stroke-width="1.2"/>
<line x1="492.6" y1="224.2" x2="498.6" y2="224.2" stroke="#222" stroke-width="1.2"/>
<line x1="492.6" y1="240.8" x2="498.6" y2="240.8" stroke="#222" stroke-width="1.2"/>
<line x1="463.9" y1="265.7" x2="477.3" y2="265.7" stroke="#8e1733" stroke-width="1.6" stroke-dasharray="2.4,1.8"/>
<path d="M470.60,262.30 L473.90,268.00 L467.30,268.00Z" fill="#bf0532"/>
<line x1="463.9" y1="279.6" x2="477.3" y2="279.6" stroke="#24396a" stroke-width="1.5"/>
<circle cx="470.60" cy="279.60" r="3.1" fill="#2e4a7b"/>
<text x="482.40000000000003" y="268.59999999999997" font-size="7.8" font-style="italic" fill="#111">Inhbb<tspan font-size="4.6" dy="-2.8" style="stroke-width:0.12px">-/-</tspan></text>
<text x="482.1" y="282.6" font-size="7.7" text-anchor="start" fill="#111">WT</text>
<text transform="translate(8.2 351.0) scale(0.92 1)" x="0" y="0" font-size="12" font-weight="bold" fill="#111">E</text>
<text x="28.8" y="411" font-size="8.8" text-anchor="middle" transform="rotate(-90 28.8 411)" fill="#111"><tspan font-style="italic">Smad7</tspan> mRNA expression</text>
<text x="40.2" y="411" font-size="8.8" text-anchor="middle" transform="rotate(-90 40.2 411)" fill="#111">FC vs controls (with 95%</text>
<text x="51.8" y="411" font-size="8.8" text-anchor="middle" transform="rotate(-90 51.8 411)" fill="#111">confidence intervals)</text>
<line x1="79.5" y1="396.35" x2="228.9" y2="396.35" stroke="#444" stroke-width="1.2"/>
<line x1="79.5" y1="360.0" x2="79.5" y2="463.05" stroke="#1a1a1a" stroke-width="1.2"/>
<line x1="76.5" y1="363.3" x2="79.5" y2="363.3" stroke="#1a1a1a" stroke-width="1.1"/>
<text x="73.1" y="366.3" font-size="7.9" text-anchor="end" fill="#111">10</text>
<line x1="76.5" y1="396.35" x2="79.5" y2="396.35" stroke="#1a1a1a" stroke-width="1.1"/>
<text x="73.1" y="399.35" font-size="7.9" text-anchor="end" fill="#111">1</text>
<line x1="76.5" y1="429.4" x2="79.5" y2="429.4" stroke="#1a1a1a" stroke-width="1.1"/>
<text x="73.1" y="432.4" font-size="7.9" text-anchor="end" fill="#111">0.1</text>
<line x1="76.5" y1="462.45" x2="79.5" y2="462.45" stroke="#1a1a1a" stroke-width="1.1"/>
<text x="73.1" y="465.45" font-size="7.9" text-anchor="end" fill="#111">0.01</text>
<line x1="77.7" y1="452.5009586433054" x2="79.5" y2="452.5009586433054" stroke="#1a1a1a" stroke-width="0.8"/>
<line x1="77.7" y1="446.68114253151515" x2="79.5" y2="446.68114253151515" stroke="#1a1a1a" stroke-width="0.8"/>
<line x1="77.7" y1="442.55191728661083" x2="79.5" y2="442.55191728661083" stroke="#1a1a1a" stroke-width="0.8"/>
<line x1="77.7" y1="439.34904135669456" x2="79.5" y2="439.34904135669456" stroke="#1a1a1a" stroke-width="0.8"/>
<line x1="77.7" y1="436.73210117482057" x2="79.5" y2="436.73210117482057" stroke="#1a1a1a" stroke-width="0.8"/>
<line x1="77.7" y1="434.5195097775288" x2="79.5" y2="434.5195097775288" stroke="#1a1a1a" stroke-width="0.8"/>
<line x1="77.7" y1="432.60287592991625" x2="79.5" y2="432.60287592991625" stroke="#1a1a1a" stroke-width="0.8"/>
<line x1="77.7" y1="430.9122850630303" x2="79.5" y2="430.9122850630303" stroke="#1a1a1a" stroke-width="0.8"/>
<line x1="77.7" y1="419.4509586433054" x2="79.5" y2="419.4509586433054" stroke="#1a1a1a" stroke-width="0.8"/>
<line x1="77.7" y1="413.63114253151514" x2="79.5" y2="413.63114253151514" stroke="#1a1a1a" stroke-width="0.8"/>
<line x1="77.7" y1="409.5019172866108" x2="79.5" y2="409.5019172866108" stroke="#1a1a1a" stroke-width="0.8"/>
<line x1="77.7" y1="406.2990413566946" x2="79.5" y2="406.2990413566946" stroke="#1a1a1a" stroke-width="0.8"/>
<line x1="77.7" y1="403.68210117482056" x2="79.5" y2="403.68210117482056" stroke="#1a1a1a" stroke-width="0.8"/>
<line x1="77.7" y1="401.4695097775288" x2="79.5" y2="401.4695097775288" stroke="#1a1a1a" stroke-width="0.8"/>
<line x1="77.7" y1="399.5528759299163" x2="79.5" y2="399.5528759299163" stroke="#1a1a1a" stroke-width="0.8"/>
<line x1="77.7" y1="397.8622850630303" x2="79.5" y2="397.8622850630303" stroke="#1a1a1a" stroke-width="0.8"/>
<line x1="77.7" y1="386.40095864330544" x2="79.5" y2="386.40095864330544" stroke="#1a1a1a" stroke-width="0.8"/>
<line x1="77.7" y1="380.5811425315152" x2="79.5" y2="380.5811425315152" stroke="#1a1a1a" stroke-width="0.8"/>
<line x1="77.7" y1="376.45191728661086" x2="79.5" y2="376.45191728661086" stroke="#1a1a1a" stroke-width="0.8"/>
<line x1="77.7" y1="373.2490413566946" x2="79.5" y2="373.2490413566946" stroke="#1a1a1a" stroke-width="0.8"/>
<line x1="77.7" y1="370.6321011748206" x2="79.5" y2="370.6321011748206" stroke="#1a1a1a" stroke-width="0.8"/>
<line x1="77.7" y1="368.41950977752884" x2="79.5" y2="368.41950977752884" stroke="#1a1a1a" stroke-width="0.8"/>
<line x1="77.7" y1="366.5028759299163" x2="79.5" y2="366.5028759299163" stroke="#1a1a1a" stroke-width="0.8"/>
<line x1="77.7" y1="364.81228506303034" x2="79.5" y2="364.81228506303034" stroke="#1a1a1a" stroke-width="0.8"/>
<line x1="77.0" y1="462.45" x2="228.9" y2="462.45" stroke="#1a1a1a" stroke-width="1.3"/>
<line x1="93.9" y1="462.45" x2="93.9" y2="465.45" stroke="#1a1a1a" stroke-width="1.3"/>
<text x="96.5" y="472.05" font-size="7.7" text-anchor="end" transform="rotate(-45 96.5 472.05)" fill="#111">LPS 2h</text>
<line x1="123.9" y1="462.45" x2="123.9" y2="465.45" stroke="#1a1a1a" stroke-width="1.3"/>
<text x="126.5" y="472.05" font-size="7.7" text-anchor="end" transform="rotate(-45 126.5 472.05)" fill="#111">LPS 4h</text>
<line x1="153.9" y1="462.45" x2="153.9" y2="465.45" stroke="#1a1a1a" stroke-width="1.3"/>
<text x="156.5" y="472.05" font-size="7.7" text-anchor="end" transform="rotate(-45 156.5 472.05)" fill="#111">LPS 6h</text>
<line x1="183.85" y1="462.45" x2="183.85" y2="465.45" stroke="#1a1a1a" stroke-width="1.3"/>
<text x="186.45" y="472.05" font-size="7.7" text-anchor="end" transform="rotate(-45 186.45 472.05)" fill="#111">LPS 15h</text>
<line x1="213.8" y1="462.45" x2="213.8" y2="465.45" stroke="#1a1a1a" stroke-width="1.3"/>
<text x="216.4" y="472.05" font-size="7.7" text-anchor="end" transform="rotate(-45 216.4 472.05)" fill="#111">LPS 24h</text>
<polyline points="91.50,417.40 121.50,403.10 151.20,417.20 181.20,410.80 211.30,401.10" fill="none" stroke="#24396a" stroke-width="1.35"/>
<polyline points="96.60,409.20 126.20,415.10 156.80,419.80 186.70,410.80 216.70,407.70" fill="none" stroke="#8e1733" stroke-width="1.45" stroke-dasharray="2.4,1.8"/>
<circle cx="91.50" cy="417.40" r="2.95" fill="#2e4a7b"/>
<circle cx="121.50" cy="403.10" r="2.95" fill="#2e4a7b"/>
<circle cx="151.20" cy="417.20" r="2.95" fill="#2e4a7b"/>
<circle cx="181.20" cy="410.80" r="2.95" fill="#2e4a7b"/>
<circle cx="211.30" cy="401.10" r="2.95" fill="#2e4a7b"/>
<path d="M96.60,405.60 L99.90,411.60 L93.30,411.60Z" fill="#bf0532"/>
<path d="M126.20,411.50 L129.50,417.50 L122.90,417.50Z" fill="#bf0532"/>
<path d="M156.80,416.20 L160.10,422.20 L153.50,422.20Z" fill="#bf0532"/>
<path d="M186.70,407.20 L190.00,413.20 L183.40,413.20Z" fill="#bf0532"/>
<path d="M216.70,404.10 L220.00,410.10 L213.40,410.10Z" fill="#bf0532"/>
<line x1="91.5" y1="411.5" x2="91.5" y2="423.1" stroke="#222" stroke-width="1.2"/>
<line x1="88.5" y1="411.5" x2="94.5" y2="411.5" stroke="#222" stroke-width="1.2"/>
<line x1="88.5" y1="423.1" x2="94.5" y2="423.1" stroke="#222" stroke-width="1.2"/>
<line x1="121.5" y1="397.7" x2="121.5" y2="408.2" stroke="#222" stroke-width="1.2"/>
<line x1="118.5" y1="397.7" x2="124.5" y2="397.7" stroke="#222" stroke-width="1.2"/>
<line x1="118.5" y1="408.2" x2="124.5" y2="408.2" stroke="#222" stroke-width="1.2"/>
<line x1="151.2" y1="412.9" x2="151.2" y2="422.4" stroke="#222" stroke-width="1.2"/>
<line x1="148.2" y1="412.9" x2="154.2" y2="412.9" stroke="#222" stroke-width="1.2"/>
<line x1="148.2" y1="422.4" x2="154.2" y2="422.4" stroke="#222" stroke-width="1.2"/>
<line x1="181.2" y1="405.6" x2="181.2" y2="415.5" stroke="#222" stroke-width="1.2"/>
<line x1="178.2" y1="405.6" x2="184.2" y2="405.6" stroke="#222" stroke-width="1.2"/>
<line x1="178.2" y1="415.5" x2="184.2" y2="415.5" stroke="#222" stroke-width="1.2"/>
<line x1="211.3" y1="395.6" x2="211.3" y2="406.8" stroke="#222" stroke-width="1.2"/>
<line x1="208.3" y1="395.6" x2="214.3" y2="395.6" stroke="#222" stroke-width="1.2"/>
<line x1="208.3" y1="406.8" x2="214.3" y2="406.8" stroke="#222" stroke-width="1.2"/>
<line x1="96.6" y1="401.1" x2="96.6" y2="416.9" stroke="#222" stroke-width="1.2"/>
<line x1="93.6" y1="401.1" x2="99.6" y2="401.1" stroke="#222" stroke-width="1.2"/>
<line x1="93.6" y1="416.9" x2="99.6" y2="416.9" stroke="#222" stroke-width="1.2"/>
<line x1="126.2" y1="406.9" x2="126.2" y2="420.5" stroke="#222" stroke-width="1.2"/>
<line x1="123.2" y1="406.9" x2="129.2" y2="406.9" stroke="#222" stroke-width="1.2"/>
<line x1="123.2" y1="420.5" x2="129.2" y2="420.5" stroke="#222" stroke-width="1.2"/>
<line x1="156.8" y1="412.5" x2="156.8" y2="426.4" stroke="#222" stroke-width="1.2"/>
<line x1="153.8" y1="412.5" x2="159.8" y2="412.5" stroke="#222" stroke-width="1.2"/>
<line x1="153.8" y1="426.4" x2="159.8" y2="426.4" stroke="#222" stroke-width="1.2"/>
<line x1="186.7" y1="402.5" x2="186.7" y2="416.7" stroke="#222" stroke-width="1.2"/>
<line x1="183.7" y1="402.5" x2="189.7" y2="402.5" stroke="#222" stroke-width="1.2"/>
<line x1="183.7" y1="416.7" x2="189.7" y2="416.7" stroke="#222" stroke-width="1.2"/>
<line x1="216.7" y1="399.4" x2="216.7" y2="415.0" stroke="#222" stroke-width="1.2"/>
<line x1="213.7" y1="399.4" x2="219.7" y2="399.4" stroke="#222" stroke-width="1.2"/>
<line x1="213.7" y1="415.0" x2="219.7" y2="415.0" stroke="#222" stroke-width="1.2"/>
<line x1="176" y1="437.9" x2="190.5" y2="437.9" stroke="#8e1733" stroke-width="1.6" stroke-dasharray="2.4,1.8"/>
<path d="M183.25,434.50 L186.55,440.20 L179.95,440.20Z" fill="#bf0532"/>
<line x1="176" y1="452.5" x2="190.5" y2="452.5" stroke="#24396a" stroke-width="1.5"/>
<circle cx="183.25" cy="452.50" r="3.1" fill="#2e4a7b"/>
<text x="194.8" y="440.79999999999995" font-size="7.8" font-style="italic" fill="#111">Inhbb<tspan font-size="4.6" dy="-2.8" style="stroke-width:0.12px">-/-</tspan></text>
<text x="194.5" y="455.5" font-size="7.7" text-anchor="start" fill="#111">WT</text>
<text transform="translate(284.3 351.0) scale(0.92 1)" x="0" y="0" font-size="12" font-weight="bold" fill="#111">F</text>
<text x="310.1" y="411.5" font-size="8.8" text-anchor="middle" transform="rotate(-90 310.1 411.5)" fill="#111"><tspan font-style="italic">Smad7</tspan> mRNA expression</text>
<text x="322.0" y="411.5" font-size="8.8" text-anchor="middle" transform="rotate(-90 322.0 411.5)" fill="#111">FC vs controls (with 95%</text>
<text x="333.6" y="411.5" font-size="8.8" text-anchor="middle" transform="rotate(-90 333.6 411.5)" fill="#111">confidence intervals)</text>
<line x1="361.3" y1="397.2" x2="510.5" y2="397.2" stroke="#444" stroke-width="1.2"/>
<line x1="361.3" y1="361.09999999999997" x2="361.3" y2="463.4" stroke="#1a1a1a" stroke-width="1.2"/>
<line x1="358.3" y1="364.4" x2="361.3" y2="364.4" stroke="#1a1a1a" stroke-width="1.1"/>
<text x="354.90000000000003" y="367.4" font-size="7.9" text-anchor="end" fill="#111">10</text>
<line x1="358.3" y1="397.2" x2="361.3" y2="397.2" stroke="#1a1a1a" stroke-width="1.1"/>
<text x="354.90000000000003" y="400.2" font-size="7.9" text-anchor="end" fill="#111">1</text>
<line x1="358.3" y1="430.0" x2="361.3" y2="430.0" stroke="#1a1a1a" stroke-width="1.1"/>
<text x="354.90000000000003" y="433.0" font-size="7.9" text-anchor="end" fill="#111">0.1</text>
<line x1="358.3" y1="462.79999999999995" x2="361.3" y2="462.79999999999995" stroke="#1a1a1a" stroke-width="1.1"/>
<text x="354.90000000000003" y="465.79999999999995" font-size="7.9" text-anchor="end" fill="#111">0.01</text>
<line x1="359.5" y1="452.9262161422214" x2="361.3" y2="452.9262161422214" stroke="#1a1a1a" stroke-width="0.8"/>
<line x1="359.5" y1="447.15042284519507" x2="361.3" y2="447.15042284519507" stroke="#1a1a1a" stroke-width="0.8"/>
<line x1="359.5" y1="443.05243228444283" x2="361.3" y2="443.05243228444283" stroke="#1a1a1a" stroke-width="0.8"/>
<line x1="359.5" y1="439.87378385777856" x2="361.3" y2="439.87378385777856" stroke="#1a1a1a" stroke-width="0.8"/>
<line x1="359.5" y1="437.27663898741645" x2="361.3" y2="437.27663898741645" stroke="#1a1a1a" stroke-width="0.8"/>
<line x1="359.5" y1="435.0807842875323" x2="361.3" y2="435.0807842875323" stroke="#1a1a1a" stroke-width="0.8"/>
<line x1="359.5" y1="433.1786484266642" x2="361.3" y2="433.1786484266642" stroke="#1a1a1a" stroke-width="0.8"/>
<line x1="359.5" y1="431.5008456903901" x2="361.3" y2="431.5008456903901" stroke="#1a1a1a" stroke-width="0.8"/>
<line x1="359.5" y1="420.1262161422214" x2="361.3" y2="420.1262161422214" stroke="#1a1a1a" stroke-width="0.8"/>
<line x1="359.5" y1="414.35042284519506" x2="361.3" y2="414.35042284519506" stroke="#1a1a1a" stroke-width="0.8"/>
<line x1="359.5" y1="410.2524322844428" x2="361.3" y2="410.2524322844428" stroke="#1a1a1a" stroke-width="0.8"/>
<line x1="359.5" y1="407.07378385777855" x2="361.3" y2="407.07378385777855" stroke="#1a1a1a" stroke-width="0.8"/>
<line x1="359.5" y1="404.47663898741644" x2="361.3" y2="404.47663898741644" stroke="#1a1a1a" stroke-width="0.8"/>
<line x1="359.5" y1="402.28078428753236" x2="361.3" y2="402.28078428753236" stroke="#1a1a1a" stroke-width="0.8"/>
<line x1="359.5" y1="400.3786484266642" x2="361.3" y2="400.3786484266642" stroke="#1a1a1a" stroke-width="0.8"/>
<line x1="359.5" y1="398.7008456903901" x2="361.3" y2="398.7008456903901" stroke="#1a1a1a" stroke-width="0.8"/>
<line x1="359.5" y1="387.32621614222137" x2="361.3" y2="387.32621614222137" stroke="#1a1a1a" stroke-width="0.8"/>
<line x1="359.5" y1="381.55042284519504" x2="361.3" y2="381.55042284519504" stroke="#1a1a1a" stroke-width="0.8"/>
<line x1="359.5" y1="377.4524322844428" x2="361.3" y2="377.4524322844428" stroke="#1a1a1a" stroke-width="0.8"/>
<line x1="359.5" y1="374.27378385777854" x2="361.3" y2="374.27378385777854" stroke="#1a1a1a" stroke-width="0.8"/>
<line x1="359.5" y1="371.6766389874165" x2="361.3" y2="371.6766389874165" stroke="#1a1a1a" stroke-width="0.8"/>
<line x1="359.5" y1="369.48078428753234" x2="361.3" y2="369.48078428753234" stroke="#1a1a1a" stroke-width="0.8"/>
<line x1="359.5" y1="367.57864842666424" x2="361.3" y2="367.57864842666424" stroke="#1a1a1a" stroke-width="0.8"/>
<line x1="359.5" y1="365.9008456903901" x2="361.3" y2="365.9008456903901" stroke="#1a1a1a" stroke-width="0.8"/>
<line x1="358.8" y1="462.79999999999995" x2="510.5" y2="462.79999999999995" stroke="#1a1a1a" stroke-width="1.3"/>
<line x1="380.3" y1="462.79999999999995" x2="380.3" y2="465.79999999999995" stroke="#1a1a1a" stroke-width="1.3"/>
<text x="383.6" y="473.09999999999997" font-size="8.1" text-anchor="end" transform="rotate(-45 383.6 473.09999999999997)" fill="#111">E. coli 2h</text>
<line x1="417.8" y1="462.79999999999995" x2="417.8" y2="465.79999999999995" stroke="#1a1a1a" stroke-width="1.3"/>
<text x="421.1" y="473.09999999999997" font-size="8.1" text-anchor="end" transform="rotate(-45 421.1 473.09999999999997)" fill="#111">E. coli 4h</text>
<line x1="455.6" y1="462.79999999999995" x2="455.6" y2="465.79999999999995" stroke="#1a1a1a" stroke-width="1.3"/>
<text x="458.90000000000003" y="473.09999999999997" font-size="8.1" text-anchor="end" transform="rotate(-45 458.90000000000003 473.09999999999997)" fill="#111">E. coli 20h</text>
<line x1="493.0" y1="462.79999999999995" x2="493.0" y2="465.79999999999995" stroke="#1a1a1a" stroke-width="1.3"/>
<text x="496.3" y="473.09999999999997" font-size="8.1" text-anchor="end" transform="rotate(-45 496.3 473.09999999999997)" fill="#111">E. coli 28h</text>
<polyline points="377.10,414.90 414.80,397.40 452.30,408.50 489.80,409.50" fill="none" stroke="#24396a" stroke-width="1.35"/>
<polyline points="383.20,415.30 420.20,407.60 458.10,417.00 495.60,418.90" fill="none" stroke="#8e1733" stroke-width="1.45" stroke-dasharray="2.4,1.8"/>
<circle cx="377.10" cy="414.90" r="2.95" fill="#2e4a7b"/>
<circle cx="414.80" cy="397.40" r="2.95" fill="#2e4a7b"/>
<circle cx="452.30" cy="408.50" r="2.95" fill="#2e4a7b"/>
<circle cx="489.80" cy="409.50" r="2.95" fill="#2e4a7b"/>
<path d="M383.20,411.70 L386.50,417.70 L379.90,417.70Z" fill="#bf0532"/>
<path d="M420.20,404.00 L423.50,410.00 L416.90,410.00Z" fill="#bf0532"/>
<path d="M458.10,413.40 L461.40,419.40 L454.80,419.40Z" fill="#bf0532"/>
<path d="M495.60,415.30 L498.90,421.30 L492.30,421.30Z" fill="#bf0532"/>
<line x1="377.1" y1="411.0" x2="377.1" y2="419.3" stroke="#222" stroke-width="1.2"/>
<line x1="374.1" y1="411.0" x2="380.1" y2="411.0" stroke="#222" stroke-width="1.2"/>
<line x1="374.1" y1="419.3" x2="380.1" y2="419.3" stroke="#222" stroke-width="1.2"/>
<line x1="414.8" y1="393.3" x2="414.8" y2="401.2" stroke="#222" stroke-width="1.2"/>
<line x1="411.8" y1="393.3" x2="417.8" y2="393.3" stroke="#222" stroke-width="1.2"/>
<line x1="411.8" y1="401.2" x2="417.8" y2="401.2" stroke="#222" stroke-width="1.2"/>
<line x1="452.3" y1="404.5" x2="452.3" y2="413.1" stroke="#222" stroke-width="1.2"/>
<line x1="449.3" y1="404.5" x2="455.3" y2="404.5" stroke="#222" stroke-width="1.2"/>
<line x1="449.3" y1="413.1" x2="455.3" y2="413.1" stroke="#222" stroke-width="1.2"/>
<line x1="489.8" y1="405.2" x2="489.8" y2="413.8" stroke="#222" stroke-width="1.2"/>
<line x1="486.8" y1="405.2" x2="492.8" y2="405.2" stroke="#222" stroke-width="1.2"/>
<line x1="486.8" y1="413.8" x2="492.8" y2="413.8" stroke="#222" stroke-width="1.2"/>
<line x1="383.2" y1="408.6" x2="383.2" y2="422.0" stroke="#222" stroke-width="1.2"/>
<line x1="380.2" y1="408.6" x2="386.2" y2="408.6" stroke="#222" stroke-width="1.2"/>
<line x1="380.2" y1="422.0" x2="386.2" y2="422.0" stroke="#222" stroke-width="1.2"/>
<line x1="420.2" y1="401.6" x2="420.2" y2="411.2" stroke="#222" stroke-width="1.2"/>
<line x1="417.2" y1="401.6" x2="423.2" y2="401.6" stroke="#222" stroke-width="1.2"/>
<line x1="417.2" y1="411.2" x2="423.2" y2="411.2" stroke="#222" stroke-width="1.2"/>
<line x1="458.1" y1="410.2" x2="458.1" y2="421.8" stroke="#222" stroke-width="1.2"/>
<line x1="455.1" y1="410.2" x2="461.1" y2="410.2" stroke="#222" stroke-width="1.2"/>
<line x1="455.1" y1="421.8" x2="461.1" y2="421.8" stroke="#222" stroke-width="1.2"/>
<line x1="495.6" y1="412.4" x2="495.6" y2="423.2" stroke="#222" stroke-width="1.2"/>
<line x1="492.6" y1="412.4" x2="498.6" y2="412.4" stroke="#222" stroke-width="1.2"/>
<line x1="492.6" y1="423.2" x2="498.6" y2="423.2" stroke="#222" stroke-width="1.2"/>
<line x1="463.0" y1="439.3" x2="477.1" y2="439.3" stroke="#8e1733" stroke-width="1.6" stroke-dasharray="2.4,1.8"/>
<path d="M470.05,435.90 L473.35,441.60 L466.75,441.60Z" fill="#bf0532"/>
<line x1="463.0" y1="452.9" x2="477.1" y2="452.9" stroke="#24396a" stroke-width="1.5"/>
<circle cx="470.05" cy="452.90" r="3.1" fill="#2e4a7b"/>
<text x="482.0" y="442.2" font-size="7.8" font-style="italic" fill="#111">Inhbb<tspan font-size="4.6" dy="-2.8" style="stroke-width:0.12px">-/-</tspan></text>
<text x="481.7" y="455.9" font-size="7.7" text-anchor="start" fill="#111">WT</text>
<rect x="0" y="0" width="520" height="1.1" fill="#000"/>
<rect x="0" y="0" width="1.3" height="508" fill="#000"/>
<rect x="518.4" y="0" width="1.6" height="508" fill="#000"/>
<rect x="0" y="506.2" width="520" height="1.8" fill="#000"/>
</svg>
</body></html>
